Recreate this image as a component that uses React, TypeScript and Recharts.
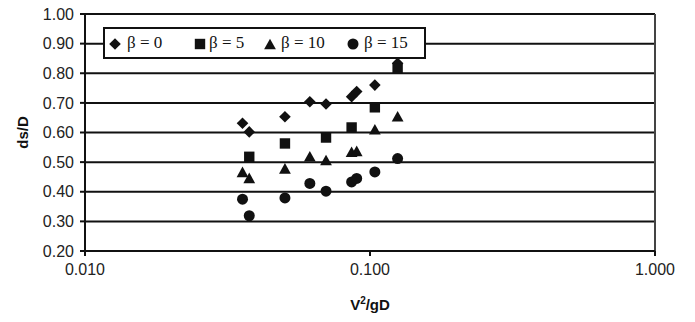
import React from 'react';
import {
  ScatterChart,
  Scatter,
  XAxis,
  YAxis,
  CartesianGrid,
  ReferenceLine,
  Legend,
} from 'recharts';

const beta0X = [0.0357, 0.0377, 0.0503, 0.0615, 0.0701, 0.0862, 0.0898, 0.104, 0.125];
const beta0Y = [0.631, 0.602, 0.653, 0.704, 0.696, 0.721, 0.738, 0.76, 0.834];
const beta5X = [0.0377, 0.0503, 0.0701, 0.0862, 0.104, 0.125];
const beta5Y = [0.518, 0.563, 0.583, 0.617, 0.685, 0.817];
const beta10X = [0.0357, 0.0377, 0.0503, 0.0615, 0.0701, 0.0862, 0.0898, 0.104, 0.125];
const beta10Y = [0.467, 0.447, 0.479, 0.52, 0.507, 0.535, 0.538, 0.611, 0.655];
const beta15X = [0.0357, 0.0377, 0.0503, 0.0615, 0.0701, 0.0862, 0.0898, 0.104, 0.125];
const beta15Y = [0.375, 0.319, 0.379, 0.428, 0.402, 0.433, 0.445, 0.467, 0.512];

const seriesNames = ['β = 0', 'β = 5', 'β = 10', 'β = 15'];
const xTicks = [0.01, 0.1, 1];
const yTicks = [0.2, 0.3, 0.4, 0.5, 0.6, 0.7, 0.8, 0.9, 1.0];

const toPoints = (xs: number[], ys: number[]) => xs.map((x, i) => ({ x, y: ys[i] }));

const INK = '#111';

const Diamond = (p: any) => {
  const { cx, cy } = p;
  const r = 5.8;
  return <polygon points={`${cx},${cy - r} ${cx + r},${cy} ${cx},${cy + r} ${cx - r},${cy}`} fill={INK} />;
};
const Square = (p: any) => {
  const { cx, cy } = p;
  const h = 5.2;
  return <rect x={cx - h} y={cy - h} width={2 * h} height={2 * h} fill={INK} />;
};
const Triangle = (p: any) => {
  const { cx, cy } = p;
  const w = 5.9;
  const h = 5.3;
  return <polygon points={`${cx},${cy - h} ${cx + w},${cy + h} ${cx - w},${cy + h}`} fill={INK} />;
};
const Circle = (p: any) => {
  const { cx, cy } = p;
  return <circle cx={cx} cy={cy} r={5.5} fill={INK} />;
};

const shapes = [Diamond, Square, Triangle, Circle];
const legendMarkerLeft = [10, 95, 165, 248];
const legendTextLeft = [22, 104, 176, 259];

const LegendBox = () => (
  <div
    style={{
      boxSizing: 'border-box',
      width: 323,
      height: 32,
      border: `2px solid ${INK}`,
      background: '#fff',
      position: 'relative',
      fontFamily: '"Liberation Serif", "Times New Roman", serif',
      fontSize: 17,
      color: INK,
    }}
  >
    {seriesNames.map((name, i) => {
      const Shape = shapes[i];
      return (
        <React.Fragment key={name}>
          <svg
            width={14}
            height={14}
            style={{ position: 'absolute', left: legendMarkerLeft[i] - 7, top: 8 }}
          >
            <Shape cx={7} cy={7} />
          </svg>
          <span style={{ position: 'absolute', left: legendTextLeft[i], top: 4, whiteSpace: 'nowrap' }}>
            {name}
          </span>
        </React.Fragment>
      );
    })}
  </div>
);

const XLabel = (props: any) => {
  const { viewBox } = props;
  const cx = viewBox.x + viewBox.width / 2;
  return (
    <text
      x={cx}
      y={310}
      textAnchor="middle"
      fontFamily='"Liberation Sans", Arial, sans-serif'
      fontWeight="bold"
      fontSize={15}
      fill={INK}
    >
      V<tspan dy={-6} fontSize={10}>2</tspan>
      <tspan dy={6}>/gD</tspan>
    </text>
  );
};

const YLabel = (props: any) => {
  const { viewBox } = props;
  const cy = viewBox.y + viewBox.height / 2;
  return (
    <text
      x={28}
      y={cy}
      transform={`rotate(-90, 28, ${cy})`}
      textAnchor="middle"
      fontFamily='"Liberation Sans", Arial, sans-serif'
      fontWeight="bold"
      fontSize={15}
      fill={INK}
    >
      ds/D
    </text>
  );
};

const tickFont = {
  fill: '#222',
  fontSize: 16,
  fontFamily: '"Liberation Sans", Arial, sans-serif',
};

export default function App() {
  const data = [
    toPoints(beta0X, beta0Y),
    toPoints(beta5X, beta5Y),
    toPoints(beta10X, beta10Y),
    toPoints(beta15X, beta15Y),
  ];
  return (
    <div style={{ position: 'absolute', left: 0, top: 0, background: '#fff' }}>
      <ScatterChart width={695} height={322} margin={{ top: 14, right: 40, bottom: 41, left: 25 }}>
        <CartesianGrid horizontal vertical={false} stroke={INK} strokeWidth={2} />
        <XAxis
          type="number"
          dataKey="x"
          scale="log"
          domain={[0.01, 1]}
          ticks={xTicks}
          allowDataOverflow
          tickFormatter={(v: number) => v.toFixed(3)}
          tick={tickFont}
          tickSize={5}
          tickMargin={8}
          height={30}
          axisLine={{ stroke: INK, strokeWidth: 2 }}
          tickLine={{ stroke: INK, strokeWidth: 2 }}
          label={<XLabel />}
        />
        <YAxis
          type="number"
          dataKey="y"
          domain={[0.2, 1]}
          ticks={yTicks}
          allowDataOverflow
          tickFormatter={(v: number) => v.toFixed(2)}
          tick={tickFont}
          tickSize={5}
          tickMargin={6}
          width={60}
          axisLine={{ stroke: INK, strokeWidth: 2 }}
          tickLine={{ stroke: INK, strokeWidth: 2 }}
          label={<YLabel />}
        />
        <ReferenceLine x={1} stroke="#444" strokeWidth={2} />
        <Legend
          layout="horizontal"
          verticalAlign="middle"
          align="center"
          content={() => <LegendBox />}
          wrapperStyle={{ position: 'absolute', left: 103, top: 27, width: 323, height: 32 }}
        />
        {data.map((pts, i) => (
          <Scatter
            key={seriesNames[i]}
            name={seriesNames[i]}
            data={pts}
            shape={shapes[i]}
            isAnimationActive={false}
          />
        ))}
      </ScatterChart>
    </div>
  );
}
